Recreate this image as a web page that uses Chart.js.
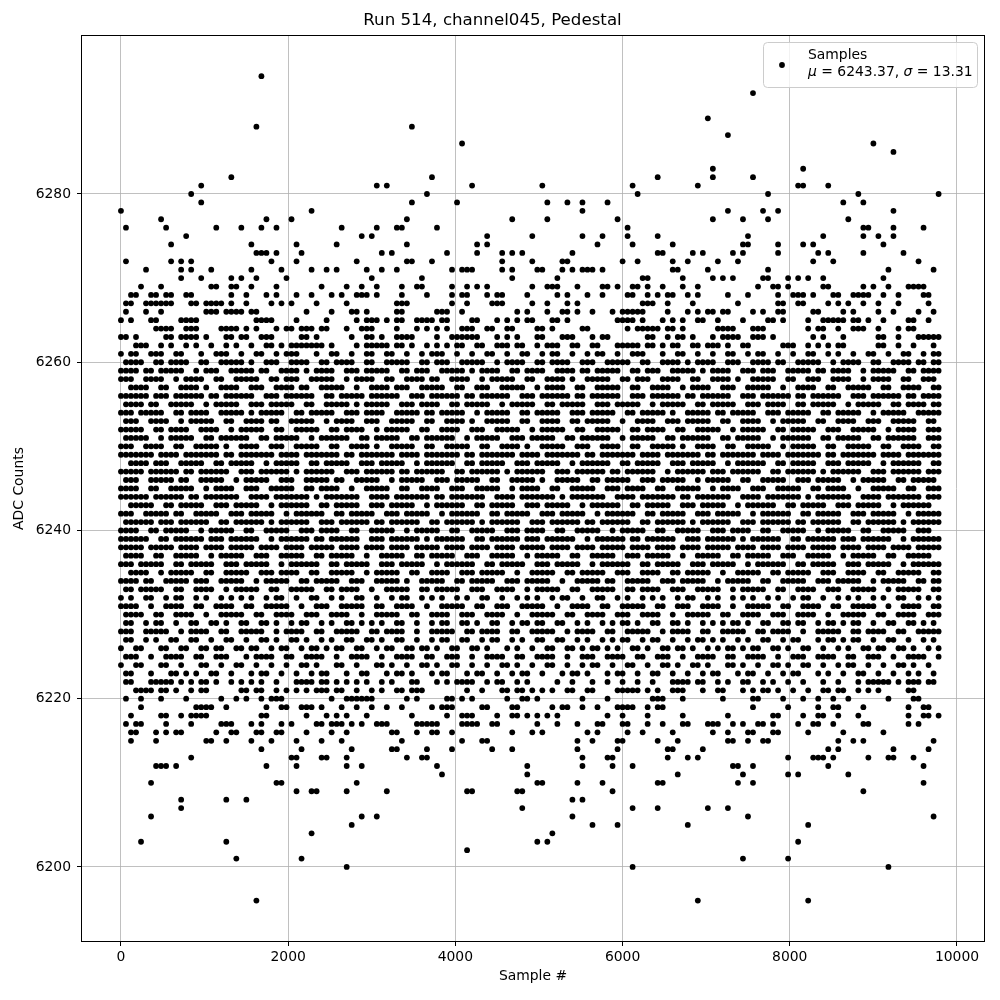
<!DOCTYPE html>
<html><head><meta charset="utf-8">
<script src="https://cdn.jsdelivr.net/npm/chart.js@4.4.1/dist/chart.umd.min.js"></script>
<style>html,body{margin:0;padding:0;background:#fff}#wrap{width:1000px;height:1000px}</style>
</head><body><div id="wrap"><canvas id="c" width="1000" height="1000"></canvas></div>
<script>
const TITLE='Run 514, channel045, Pedestal';
const X_LABEL='Sample #';
const Y_LABEL='ADC Counts';
const SERIES_LABEL='Samples';
const MU=6243.37, SIGMA=13.31;
const xTicks=[0,2000,4000,6000,8000,10000];
const yTicks=[6200,6220,6240,6260,6280];
// sample numbers on a grid of 60 samples per column
const SAMPLE_STEP=60;
// one array per ADC level: the sample columns where a point sits at that level
const r6294=[28];
const r6292=[126];
const r6289=[117];
const r6288=[27,58];
const r6287=[121];
const r6286=[68,150];
const r6285=[154];
const r6283=[118,136];
const r6282=[22,62,107,118,126];
const r6281=[16,51,53,70,84,102,115,135,136,141];
const r6280=[14,61,103,129,147,163];
const r6279=[16,58,67,85,89,92,97,144,148];
const r6278=[0,38,92,121,128,131,154];
const r6277=[8,29,34,57,78,85,99,118,124,129,145];
const r6276=[1,9,19,24,28,31,44,51,55,56,63,101,148,149,154,160];
const r6275=[13,48,50,73,82,92,96,101,107,125,140,148,151,154];
const r6274=[10,26,35,43,57,71,73,95,102,110,124,125,131,136,138,152];
const r6273=[27,28,29,31,36,52,54,65,71,76,78,80,90,107,108,114,116,122,124,131,139,141,148,156];
const r6272=[1,10,12,14,30,35,47,57,58,62,76,82,88,89,100,103,110,113,119,123,138,142,159];
const r6271=[5,12,14,18,26,32,38,41,43,49,52,55,66,68,69,70,76,78,83,84,88,90,92,93,94,96,110,111,117,129,153,162];
const r6270=[12,16,22,24,27,33,50,60,78,87,104,105,112,118,120,122,128,129,133,135,137,140,152];
const r6269=[4,8,18,19,22,23,26,31,40,45,48,51,56,59,60,66,69,71,73,82,85,86,87,91,96,97,99,102,103,105,108,112,115,127,130,131,133,140,141,148,150,153,157,158,159,160];
const r6268=[2,3,6,7,9,10,13,14,22,25,29,31,35,38,42,44,47,48,49,51,56,61,66,68,69,73,75,76,81,87,89,93,96,101,102,105,107,109,110,113,115,121,125,131,134,135,136,138,142,143,146,147,148,149,152,155,160,161];
const r6267=[1,2,5,6,7,8,9,10,14,15,17,18,19,20,22,25,30,32,34,39,45,55,56,57,66,69,74,75,76,82,85,89,91,104,105,106,109,114,123,131,132,135,136,141,143,145,148,151,155,161];
const r6266=[1,5,8,17,18,19,21,22,23,24,26,27,37,42,46,47,49,55,56,63,64,65,68,79,81,85,88,89,91,94,98,100,101,102,103,104,109,113,115,117,118,120,121,126,128,131,132,138,139,144,146,151,154,159,162];
const r6265=[0,2,6,7,12,13,14,15,27,28,29,30,35,41,47,49,50,51,53,55,56,59,60,61,62,64,65,70,71,75,77,79,81,82,86,87,89,99,100,101,102,104,108,110,112,115,116,119,124,129,130,132,137,140,141,142,143,144,146,147,149,152,157,158,161];
const r6264=[7,8,9,10,13,14,15,20,21,22,23,25,27,31,33,34,36,37,38,40,41,45,48,49,50,55,59,61,63,65,68,69,70,73,74,77,78,83,84,86,92,93,101,103,104,105,106,107,109,110,112,119,120,121,122,126,127,128,137,139,140,143,146,147,148,151,155,157,158];
const r6263=[0,1,3,9,10,12,13,14,15,17,21,22,24,25,28,29,30,36,37,39,46,49,50,52,55,56,57,58,63,66,67,68,69,70,71,75,77,79,83,84,88,89,90,94,96,97,105,106,109,111,112,114,118,120,121,122,123,126,127,128,130,138,140,144,151,152,155,159,160,161,162,163];
const r6262=[3,4,5,8,10,13,15,18,21,23,26,29,30,32,34,35,36,37,38,39,40,42,47,49,50,51,52,53,55,56,58,61,63,65,67,68,71,72,75,76,77,79,80,83,85,86,87,90,91,94,95,99,100,101,102,103,105,106,108,110,111,114,115,117,118,119,121,124,125,132,133,134,137,139,141,143,144,151,152,155,158,162];
const r6261=[0,2,3,6,7,8,11,12,16,19,20,21,24,27,28,31,33,34,35,39,42,43,46,49,50,53,54,57,60,62,63,64,67,70,73,74,77,80,81,84,86,87,90,93,95,96,99,102,103,104,108,111,112,115,118,121,122,125,127,128,131,134,137,138,141,143,146,149,150,153,156,157,160,162,163];
const r6260=[1,2,3,4,7,8,10,11,12,13,16,17,20,21,22,23,24,26,29,30,31,34,35,36,37,40,41,43,44,45,46,49,50,53,54,55,56,57,60,61,63,64,65,68,69,70,71,72,75,77,78,79,80,83,84,86,87,88,89,92,93,94,97,98,99,100,101,104,105,108,109,110,111,113,115,116,117,118,121,122,123,126,127,128,129,131,132,135,136,137,138,139,142,144,145,146,147,150,151,154,155,156,157,159,160,162,163];
const r6259=[0,1,2,3,5,6,8,9,10,11,12,15,17,18,19,22,23,24,25,26,28,29,32,33,34,35,37,39,40,41,42,45,46,47,49,50,51,52,53,56,57,59,60,61,64,65,66,67,68,70,72,73,74,75,78,79,81,82,83,84,87,88,89,90,92,93,95,96,97,98,99,102,103,105,106,107,110,111,112,113,114,116,118,119,120,121,124,125,126,128,129,130,133,134,135,136,137,139,140,142,143,144,145,148,150,151,152,153,154,157,158,160,161,162,163];
const r6258=[0,1,2,5,6,7,8,11,13,14,15,16,19,20,23,24,25,26,27,30,31,33,34,35,38,39,40,41,42,45,47,48,49,50,53,54,57,58,59,60,62,63,66,67,68,69,72,74,75,76,77,78,81,82,85,86,87,88,90,93,94,95,96,97,100,101,103,104,105,108,109,110,111,114,115,118,119,120,121,123,126,127,128,129,130,133,134,137,138,139,142,143,144,145,148,150,151,152,153,156,157,160,161,162];
const r6257=[2,3,4,5,8,9,12,13,14,15,17,20,21,22,23,26,27,28,31,32,33,34,36,37,40,41,42,43,44,47,50,51,52,53,55,56,57,60,61,62,63,64,67,68,71,72,73,76,77,78,79,80,83,85,86,87,88,91,92,95,96,97,98,99,102,103,106,107,108,109,112,114,115,116,117,120,121,122,125,126,127,128,129,132,135,136,137,138,141,142,145,146,147,148,149,152,153,156,157,158,159,162,163];
const r6256=[0,1,2,3,4,5,7,8,9,11,12,13,14,15,16,18,19,21,22,23,24,25,26,29,30,31,33,34,35,36,37,38,41,42,44,45,46,47,48,50,51,52,53,54,55,58,59,60,62,63,64,65,66,67,69,70,72,73,74,75,76,77,80,81,82,84,85,86,87,88,89,91,92,94,95,96,97,98,99,102,103,104,106,107,108,109,110,111,113,114,116,117,118,119,120,121,124,125,126,128,129,130,131,132,133,135,136,138,139,140,141,142,143,146,147,148,150,151,152,153,154,155,157,158,160,161,162,163];
const r6255=[1,2,3,4,6,7,10,11,12,13,14,17,19,20,21,22,23,26,27,28,30,31,32,33,34,37,38,41,42,43,44,45,47,49,50,51,52,53,56,57,58,60,61,62,63,66,67,69,70,71,72,73,76,78,79,80,81,82,85,86,88,89,90,91,92,95,96,97,99,100,101,102,103,106,108,109,110,111,112,115,116,118,119,120,121,122,125,126,127,129,130,131,132,135,136,138,139,140,141,142,145,147,148,149,150,151,154,155,157,158,159,160,162,163];
const r6254=[0,1,2,4,5,6,7,8,11,12,14,15,16,17,20,21,22,23,24,26,28,29,30,31,32,35,36,38,39,40,41,42,45,46,47,49,50,51,52,55,56,57,58,59,61,62,64,65,66,67,68,71,73,74,75,76,77,80,81,83,84,85,86,87,90,91,92,94,95,96,97,98,101,102,104,105,106,107,108,110,113,114,115,116,117,119,120,122,123,124,125,126,129,130,131,133,134,135,136,137,140,141,143,144,145,146,147,150,152,153,154,155,156,159,160,161,162,163];
const r6253=[1,2,3,6,7,8,9,12,14,15,16,17,18,21,22,25,26,27,28,30,31,34,35,36,37,38,41,43,44,45,46,49,50,51,54,55,56,57,58,61,62,65,66,67,68,70,73,74,75,76,77,80,81,84,85,86,87,90,91,93,94,95,96,97,100,103,104,105,106,109,110,111,113,114,115,116,117,120,121,124,125,126,127,130,132,133,134,135,136,139,140,143,144,145,146,149,150,151,154,155,156,157,158,161,162];
const r6252=[0,1,2,3,4,7,8,10,11,12,13,16,17,18,19,22,24,25,26,27,28,31,32,35,36,37,38,39,42,43,45,46,47,48,51,53,54,55,56,57,60,61,64,65,66,67,70,71,72,75,76,77,78,79,82,84,85,86,87,88,91,92,95,96,97,98,99,102,103,105,106,107,108,111,112,115,116,117,118,119,122,124,125,126,127,128,131,132,134,135,136,137,138,141,142,143,146,147,148,149,150,153,155,156,157,158,161,162,163];
const r6251=[1,2,3,4,5,8,10,11,12,13,14,17,18,20,21,22,23,24,25,28,29,31,32,33,34,35,38,40,41,42,43,44,45,48,49,51,52,53,54,55,58,59,61,62,63,64,65,66,69,71,72,73,74,75,78,79,80,82,83,84,85,86,89,90,92,93,94,95,96,97,100,102,103,104,105,106,109,110,112,113,114,115,116,117,120,121,123,124,125,126,127,130,132,133,134,135,136,137,140,141,143,144,145,146,147,150,151,153,154,155,156,157,158,161,162,163];
const r6250=[0,1,2,5,6,7,8,11,12,15,16,17,18,19,21,24,25,26,27,30,31,32,35,36,37,38,39,42,43,46,47,48,49,51,54,55,56,57,58,61,62,65,66,67,68,69,72,73,76,77,78,79,81,84,85,86,87,88,91,92,93,96,97,98,99,102,103,106,107,108,109,110,112,115,116,117,118,121,122,125,126,127,128,129,132,134,135,136,137,138,141,142,145,146,147,148,149,152,153,156,157,158,159,162,163];
const r6249=[0,1,2,3,4,5,6,8,9,10,11,13,14,15,16,17,18,19,21,22,24,25,26,27,28,29,30,32,33,34,35,37,38,39,40,41,42,43,45,46,48,49,50,51,52,53,54,56,57,58,59,61,62,63,64,65,66,67,69,70,72,73,74,75,76,77,78,80,81,82,83,85,86,87,88,89,90,91,93,94,96,97,98,99,100,101,102,104,105,106,107,109,110,111,112,113,114,115,117,118,120,121,122,123,124,125,126,128,129,130,131,133,134,135,136,137,138,139,141,142,144,145,146,147,148,149,150,152,153,154,155,157,158,159,160,161,162,163];
const r6248=[2,3,4,5,7,8,9,12,13,14,15,16,19,20,22,23,24,25,26,29,31,32,33,34,35,38,39,41,42,43,44,45,48,49,50,52,53,54,55,56,59,61,62,63,64,65,66,69,70,72,73,74,75,76,79,80,81,83,84,85,86,87,90,92,93,94,95,96,97,100,101,103,104,105,106,107,110,111,112,114,115,116,117,118,121,123,124,125,126,127,128,131,132,134,135,136,137,138,141,142,143,145,146,147,148,149,152,154,155,156,157,158,159,162,163];
const r6247=[0,1,2,3,4,6,7,8,9,10,11,13,14,16,17,18,19,20,21,24,25,26,28,29,30,31,32,33,35,37,38,39,40,41,42,45,46,47,49,50,51,52,53,54,56,57,59,60,61,62,63,64,67,68,70,71,72,73,74,75,77,79,80,81,82,83,84,87,88,89,91,92,93,94,95,96,98,99,101,102,103,104,105,106,109,111,112,113,114,115,116,118,119,120,122,123,124,125,126,127,130,131,133,134,135,136,137,138,140,142,143,144,145,146,147,150,151,152,154,155,156,157,158,159,161,162,163];
const r6246=[1,2,3,6,7,8,9,10,12,13,16,17,18,19,20,23,25,26,27,28,29,32,33,34,37,38,39,40,41,43,44,47,48,49,50,51,54,56,57,58,59,60,63,64,65,67,68,69,70,71,74,75,78,79,80,81,82,84,87,88,89,90,91,94,95,97,98,99,100,101,104,105,106,108,109,110,111,112,115,117,118,119,120,121,124,125,128,129,130,131,132,135,136,137,139,140,141,142,143,146,148,149,150,151,152,155,156,158,159,160,161,162];
const r6245=[0,1,2,3,6,7,10,11,12,13,14,17,19,20,21,22,25,26,27,30,31,32,33,34,37,38,40,41,42,43,46,49,50,51,52,53,56,57,60,61,62,63,66,67,68,71,72,73,74,75,78,80,81,82,83,86,87,90,91,92,93,94,97,98,99,101,102,103,104,107,108,111,112,113,114,115,118,120,121,122,123,126,127,128,131,132,133,134,135,138,139,141,142,143,144,147,150,151,152,153,154,157,158,161,162,163];
const r6244=[0,1,2,3,4,5,7,8,9,10,11,12,14,15,17,18,19,20,21,22,23,26,27,28,29,31,32,33,34,35,36,37,39,41,42,43,44,45,46,47,50,51,52,53,55,56,57,58,59,60,61,63,64,66,67,68,69,70,71,72,75,76,77,78,80,81,82,83,84,85,86,88,90,91,92,93,94,95,96,99,100,101,102,104,105,106,107,108,109,110,112,113,115,116,117,118,119,120,121,124,125,126,127,129,130,131,132,133,134,135,137,139,140,141,142,143,144,145,148,149,150,151,153,154,155,156,157,158,159,161,162,163];
const r6243=[2,3,4,5,6,9,10,12,13,14,15,16,19,20,21,23,24,25,26,27,30,32,33,34,35,36,37,40,41,43,44,45,46,47,50,51,52,54,55,56,57,58,61,63,64,65,66,67,68,71,72,74,75,76,77,78,81,82,83,85,86,87,88,89,92,94,95,96,97,98,99,102,103,105,106,107,108,109,112,113,114,116,117,118,119,120,123,125,126,127,128,129,130,133,134,136,137,138,139,140,143,144,145,147,148,149,150,151,154,156,157,158,159,160,161];
const r6242=[0,1,2,5,6,7,8,9,11,12,15,16,17,18,19,22,23,24,26,27,28,29,30,33,35,36,37,38,39,40,43,44,46,47,48,49,50,53,54,55,57,58,59,60,61,64,66,67,68,69,70,71,74,75,77,78,79,80,81,84,85,86,88,89,90,91,92,95,97,98,99,100,101,102,105,106,108,109,110,111,112,115,116,117,119,120,121,122,123,126,128,129,130,131,132,133,136,137,139,140,141,142,143,146,147,148,150,151,152,153,154,157,159,160,161,162,163];
const r6241=[1,2,3,4,5,6,8,9,10,12,13,14,15,16,17,20,21,23,24,25,26,27,28,30,32,33,34,35,36,37,40,41,42,44,45,46,47,48,49,51,52,54,55,56,57,58,59,62,63,65,66,67,68,69,70,72,74,75,76,77,78,79,82,83,84,86,87,88,89,90,91,93,94,96,97,98,99,100,101,104,105,107,108,109,110,111,112,114,116,117,118,119,120,121,124,125,126,128,129,130,131,132,133,135,136,138,139,140,141,142,143,146,147,149,150,151,152,153,154,156,158,159,160,161,162,163];
const r6240=[0,1,2,3,6,7,9,10,11,12,13,16,18,19,20,21,22,25,26,29,30,31,32,33,36,37,38,40,41,42,43,46,47,50,51,52,53,54,57,59,60,61,62,63,66,67,70,71,72,73,74,77,78,79,81,82,83,84,87,88,91,92,93,94,95,98,100,101,102,103,104,107,108,111,112,113,114,115,118,119,120,122,123,124,125,128,129,132,133,134,135,136,139,141,142,143,144,145,148,149,152,153,154,155,156,159,160,161];
const r6239=[0,1,2,3,4,5,8,9,11,12,13,14,15,16,18,19,20,22,23,24,25,26,27,30,32,33,34,35,36,37,39,40,42,43,44,45,46,47,50,51,52,54,55,56,57,58,59,61,63,64,65,66,67,68,71,72,74,75,76,77,78,79,81,82,83,85,86,87,88,89,90,93,95,96,97,98,99,100,102,103,105,106,107,108,109,110,113,114,115,117,118,119,120,121,122,124,126,127,128,129,130,131,134,135,137,138,139,140,141,142,144,145,146,148,149,150,151,152,153,156,158,159,160,161,162,163];
const r6238=[0,1,2,3,4,6,7,8,9,10,12,13,14,15,17,18,19,20,22,23,24,25,26,28,29,30,31,33,34,35,36,38,39,40,41,42,44,45,46,47,49,50,51,52,54,55,56,57,59,60,61,62,63,65,66,67,68,70,71,72,73,75,76,77,78,80,81,82,83,84,86,87,88,89,91,92,93,94,96,97,98,99,100,102,103,104,105,107,108,109,110,112,113,114,115,117,118,119,120,121,123,124,125,126,128,129,130,131,133,134,135,136,138,139,140,141,142,144,145,146,147,149,150,151,152,154,155,156,157,159,160,161,162,163];
const r6237=[1,2,3,4,7,8,11,12,13,14,15,18,20,21,22,23,24,27,28,29,32,33,34,35,36,39,40,42,43,44,45,46,49,52,53,54,55,56,59,60,62,63,64,65,66,69,70,71,74,75,76,77,78,81,83,84,85,86,87,90,91,94,95,96,97,98,101,102,103,105,106,107,108,109,112,115,116,117,118,119,122,123,125,126,127,128,129,132,133,134,137,138,139,140,141,144,146,147,148,149,150,153,154,157,158,159,160,161];
const r6236=[0,1,2,4,5,6,7,8,11,12,14,15,16,17,18,21,22,23,25,26,27,28,29,32,34,35,36,37,38,39,42,43,45,46,47,48,49,52,53,54,56,57,58,59,60,63,65,66,67,68,69,70,73,74,76,77,78,79,80,83,84,85,87,88,89,90,91,94,96,97,98,99,100,101,104,105,107,108,109,110,111,114,115,116,118,119,120,121,122,125,127,128,129,130,131,132,135,136,138,139,140,141,142,145,146,147,149,150,151,152,153,156,158,159,160,161,162,163];
const r6235=[2,3,4,5,8,10,11,12,13,14,17,18,21,22,23,24,25,28,29,30,32,33,34,35,38,39,42,43,44,45,46,49,51,52,53,54,55,58,59,62,63,64,65,68,69,70,72,73,74,75,76,79,82,83,84,85,86,89,90,92,93,94,95,96,99,100,101,104,105,106,107,110,111,113,114,115,116,117,120,123,124,125,126,127,130,131,133,134,135,136,137,140,141,142,145,146,147,148,151,152,155,156,157,158,159,162,163];
const r6234=[0,1,2,3,5,6,9,10,11,12,13,15,16,17,20,21,22,23,24,27,29,30,31,32,33,36,37,39,40,41,42,43,46,47,48,51,52,53,54,55,57,60,61,62,63,64,67,68,70,71,72,73,74,77,78,79,81,82,83,84,85,88,91,92,93,94,95,97,98,101,102,103,104,105,108,109,110,112,113,114,115,116,119,121,122,123,124,125,128,129,132,133,134,135,136,139,140,141,143,144,145,146,147,150,152,153,154,155,156,159,160,162,163];
const r6233=[1,2,4,5,6,7,8,11,12,15,16,17,18,21,23,24,25,26,27,30,31,34,35,36,37,38,41,42,44,45,46,47,50,53,54,55,56,57,60,61,63,64,65,66,67,70,71,72,75,76,77,78,81,83,84,85,86,87,90,91,94,95,96,97,98,101,102,104,105,106,107,110,111,112,115,116,117,118,119,122,124,125,126,127,128,131,132,135,136,137,138,141,142,143,146,147,148,149,150,153,155,156,157,158,159,162,163];
const r6232=[0,2,5,6,9,11,12,15,17,20,22,24,26,29,31,32,35,38,39,42,44,47,48,51,54,56,57,60,62,64,67,69,72,73,76,79,81,83,86,88,89,92,95,96,99,101,104,106,108,111,113,114,117,119,122,124,126,129,131,134,136,137,140,143,145,147,150,152,155,156,159,161,163];
const r6231=[0,1,2,3,6,9,10,11,12,15,16,19,20,21,22,25,26,29,30,31,32,33,36,39,40,41,44,45,46,47,48,51,52,55,56,57,58,61,64,65,66,67,68,71,72,75,76,77,80,81,82,83,84,87,90,91,92,93,96,97,100,101,102,103,104,107,108,111,112,113,116,117,118,119,122,125,126,127,128,129,132,133,136,137,138,139,142,143,146,147,148,149,150,153,156,157,158,159,162,163];
const r6230=[1,2,3,4,7,8,11,12,13,14,17,20,21,22,23,24,27,28,31,32,33,34,37,38,39,42,43,44,45,48,51,52,53,54,55,58,59,62,63,64,65,68,69,70,73,74,75,76,79,82,83,84,85,86,89,90,93,94,95,96,99,100,101,104,105,106,107,110,113,114,115,116,117,120,121,124,125,126,127,130,131,132,135,136,137,138,141,144,145,146,147,148,151,152,155,156,157,158,161,162,163];
const r6229=[1,2,5,7,8,11,14,15,18,19,21,24,25,28,29,31,34,36,37,40,42,45,46,48,50,52,55,56,59,62,64,65,68,69,71,74,75,78,80,81,83,84,87,88,91,93,96,98,100,101,103,106,107,110,111,113,116,118,120,122,123,125,128,129,132,133,135,136,139,141,142,144,146,147,150,153,154,157,158,160,162];
const r6228=[0,1,2,5,6,7,8,9,12,14,15,16,17,20,21,24,25,26,27,28,31,33,34,35,36,39,40,43,44,45,46,47,50,51,53,54,55,56,59,62,63,64,65,66,69,70,72,73,74,75,78,79,82,83,84,85,86,89,91,92,93,94,97,98,101,102,103,104,105,108,110,111,112,113,116,117,120,121,122,123,124,127,128,130,131,132,133,136,139,140,141,142,143,146,147,149,150,151,152,155,156,159,160,161,162,163];
const r6227=[1,2,5,7,10,11,14,15,18,21,22,25,28,29,31,34,35,37,40,42,45,46,49,50,52,55,56,59,62,64,65,68,69,72,74,75,78,80,83,84,87,88,91,93,96,98,100,101,104,106,107,110,113,115,116,118,120,123,125,128,129,132,134,135,139,141,142,144,146,147,150,153,154,157,160,162];
const r6226=[0,3,4,8,9,12,13,16,17,19,20,23,24,26,27,30,32,33,36,38,39,41,43,44,47,48,51,53,54,57,58,60,61,63,66,67,70,71,73,77,79,82,85,86,89,90,92,94,95,97,99,102,103,105,108,109,111,112,114,117,119,121,122,124,126,127,130,131,133,136,137,140,143,145,148,149,151,152,155,156,158,161,163];
const r6225=[1,2,3,6,9,10,11,12,15,16,19,20,21,25,27,28,29,30,33,34,37,38,39,40,43,46,47,48,49,52,55,56,57,58,61,62,65,66,67,70,73,74,75,76,79,80,83,84,85,86,89,92,93,94,97,98,99,100,103,104,107,108,109,112,115,116,117,118,121,122,125,126,127,128,131,134,135,136,139,140,141,142,145,146,149,150,151,154,157,158,159,160,163];
const r6224=[0,3,4,8,9,12,16,17,20,23,24,27,30,33,36,37,39,43,44,47,51,52,54,57,60,61,63,66,67,70,73,76,77,79,82,85,86,89,92,94,95,98,101,102,105,108,109,111,114,115,117,121,122,124,127,130,131,133,136,137,140,143,145,146,149,152,155,156,158,161];
const r6223=[1,2,6,10,11,13,15,18,19,22,26,28,29,32,35,38,40,41,45,48,49,53,55,56,58,62,64,65,69,71,72,75,78,80,81,84,88,90,91,93,97,99,100,103,106,107,110,113,116,118,119,123,125,126,129,132,134,135,139,141,144,147,148,151,154,157,159,162];
const r6222=[1,2,6,7,8,9,10,12,14,16,17,19,22,24,26,28,31,35,36,37,38,40,41,43,45,47,49,52,54,58,59,63,65,67,68,69,70,73,75,76,79,81,87,90,94,97,100,103,106,110,111,112,113,115,116,119,121,124,125,128,130,133,136,140,143,147,149,150,151,152,153,155,157,158,159,161,162];
const r6221=[3,4,5,6,8,9,11,14,16,17,24,25,27,28,31,33,35,37,39,40,41,43,44,47,50,52,55,56,58,59,60,69,72,76,77,79,80,82,84,86,89,90,93,94,99,100,101,102,103,105,107,110,111,112,116,119,120,124,126,128,129,131,134,137,140,141,143,144,147,149,151,157,158];
const r6220=[1,4,8,13,20,23,25,28,30,31,32,42,45,46,47,48,49,50,57,59,65,66,68,70,77,80,81,83,92,97,106,107,108,112,120,126,127,132,136,139,142,145,153,158,159];
const r6219=[4,15,16,17,18,21,29,32,33,36,37,38,40,44,47,50,53,56,62,64,65,66,72,73,78,79,86,88,89,92,95,99,100,101,102,105,107,108,126,133,139,142,143,148,157,160,161];
const r6218=[2,8,9,12,14,15,16,17,28,29,37,41,43,45,49,58,65,68,69,70,75,78,79,81,83,85,87,97,100,105,112,121,130,131,136,139,140,143,147,157,160,161,163];
const r6217=[1,3,4,9,14,20,21,22,26,28,32,34,39,40,42,43,44,46,48,51,52,53,59,60,61,62,63,68,69,70,71,74,75,83,87,91,95,96,100,101,105,108,112,113,117,118,119,122,124,127,128,130,135,138,139,142,148,149,157,159];
const r6216=[2,3,7,9,11,12,19,22,23,27,28,31,32,37,42,45,54,55,59,62,63,66,78,82,84,93,95,101,104,110,118,121,125,126,130,131,137,144,152];
const r6215=[2,7,17,18,21,26,30,35,40,44,56,68,72,73,91,94,99,100,107,111,121,122,125,128,129,143,146,148,162];
const r6214=[28,36,46,54,55,61,66,74,78,91,99,109,110,116,141,143,154,161];
const r6213=[14,34,35,40,41,45,57,60,61,92,97,98,109,113,115,133,138,139,140,142,149,153,154,158];
const r6212=[7,8,9,11,29,35,45,48,63,81,92,98,102,122,123,126,141,160];
const r6211=[64,81,111,124,133,135,145];
const r6210=[6,31,32,47,83,84,91,96,107,108,123,126,160];
const r6209=[35,38,39,45,53,69,70,79,80,98,148];
const r6208=[12,21,25,90,92];
const r6207=[12,80,102,107,117,121];
const r6206=[6,48,51,90,125,162];
const r6205=[46,94,99,113,137];
const r6204=[38,86];
const r6203=[4,21,83,85,135];
const r6202=[69];
const r6201=[23,36,124,133];
const r6200=[45,102,153];
const r6196=[27,115,137];

const levels=[6294,6292,6289,6288,6287,6286,6285,6283,6282,6281,6280,6279,6278,6277,6276,6275,6274,6273,6272,6271,6270,6269,6268,6267,6266,6265,6264,6263,6262,6261,6260,6259,6258,6257,6256,6255,6254,6253,6252,6251,6250,6249,6248,6247,6246,6245,6244,6243,6242,6241,6240,6239,6238,6237,6236,6235,6234,6233,6232,6231,6230,6229,6228,6227,6226,6225,6224,6223,6222,6221,6220,6219,6218,6217,6216,6215,6214,6213,6212,6211,6210,6209,6208,6207,6206,6205,6204,6203,6202,6201,6200,6196];
const rowCols=[r6294,r6292,r6289,r6288,r6287,r6286,r6285,r6283,r6282,r6281,r6280,r6279,r6278,r6277,r6276,r6275,r6274,r6273,r6272,r6271,r6270,r6269,r6268,r6267,r6266,r6265,r6264,r6263,r6262,r6261,r6260,r6259,r6258,r6257,r6256,r6255,r6254,r6253,r6252,r6251,r6250,r6249,r6248,r6247,r6246,r6245,r6244,r6243,r6242,r6241,r6240,r6239,r6238,r6237,r6236,r6235,r6234,r6233,r6232,r6231,r6230,r6229,r6228,r6227,r6226,r6225,r6224,r6223,r6222,r6221,r6220,r6219,r6218,r6217,r6216,r6215,r6214,r6213,r6212,r6211,r6210,r6209,r6208,r6207,r6206,r6205,r6204,r6203,r6202,r6201,r6200,r6196];

const points=[];
levels.forEach((lv,i)=>{rowCols[i].forEach(c=>points.push({x:c*SAMPLE_STEP,y:lv}));});

const FONT='"DejaVu Sans", sans-serif';

const framePlugin={id:'frame',afterDatasetsDraw(chart){
  const {ctx,chartArea:a}=chart;ctx.save();ctx.strokeStyle='#000';ctx.lineWidth=1;
  ctx.strokeRect(Math.round(a.left)+0.5,Math.round(a.top)+0.5,Math.round(a.right-a.left)-1,Math.round(a.bottom-a.top)-1);
  ctx.restore();}};

const statsLegend={id:'statsLegend',afterDraw(chart){
  const c=chart.ctx;c.save();
  const x0=763.5,y0=42.5,w=214,h=45,r=4;
  c.beginPath();
  if(c.roundRect){c.roundRect(x0,y0,w,h,r);}else{c.rect(x0,y0,w,h);}
  c.fillStyle='rgba(255,255,255,0.8)';c.fill();c.strokeStyle='#cccccc';c.lineWidth=1;c.stroke();
  c.fillStyle='#000';c.beginPath();c.arc(782,65,2.9,0,Math.PI*2);c.fill();
  c.textBaseline='middle';c.textAlign='left';
  c.font='13.9px '+FONT;c.fillText(SERIES_LABEL,808,55);
  let x=808;const y=72;
  const segs=[['\u03bc','italic'],[' = '+MU.toFixed(2)+', ','normal'],['\u03c3','italic'],[' = '+SIGMA.toFixed(2),'normal']];
  segs.forEach(([t,st])=>{c.font=(st==='italic'?'oblique ':'')+'13.9px '+FONT;c.fillText(t,x,y);x+=c.measureText(t).width;});
  c.restore();}};

const gridOpts={color:'#b0b0b0',lineWidth:0.8,drawTicks:true,tickLength:4,tickColor:'#000',tickWidth:1};

new Chart(document.getElementById('c'),{
  type:'scatter',
  data:{datasets:[{label:SERIES_LABEL,data:points,backgroundColor:'#000',borderColor:'#000',pointRadius:2.9,pointBorderWidth:0,pointHoverRadius:2.9}]},
  options:{
    responsive:false,animation:false,events:[],
    layout:{padding:{left:0,right:15,top:0,bottom:0}},
    plugins:{
      legend:{display:false},tooltip:{enabled:false},
      title:{display:true,text:TITLE,color:'#000',font:{family:FONT,size:16.67,weight:'normal'},padding:{top:11,bottom:4}}
    },
    scales:{
      x:{type:'linear',min:-478,max:10335,
        afterBuildTicks:s=>{s.ticks=xTicks.map(v=>({value:v}));},
        afterFit:s=>{s.height=58;},
        grid:gridOpts,border:{display:false},
        ticks:{color:'#000',font:{family:FONT,size:13.9},padding:3,maxRotation:0,autoSkip:false,callback:v=>String(v)},
        title:{display:true,text:X_LABEL,color:'#000',font:{family:FONT,size:13.9},padding:{top:0,bottom:15}}},
      y:{type:'linear',min:6191.08,max:6298.9,
        afterBuildTicks:s=>{s.ticks=yTicks.map(v=>({value:v}));},
        afterFit:s=>{s.width=81;},
        grid:gridOpts,border:{display:false},
        ticks:{color:'#000',font:{family:FONT,size:13.9},padding:6,autoSkip:false,callback:v=>String(v)},
        title:{display:true,text:Y_LABEL,color:'#000',font:{family:FONT,size:13.9},padding:{top:11,bottom:0}}}
    }
  },
  plugins:[framePlugin,statsLegend]
});
</script></body></html>
